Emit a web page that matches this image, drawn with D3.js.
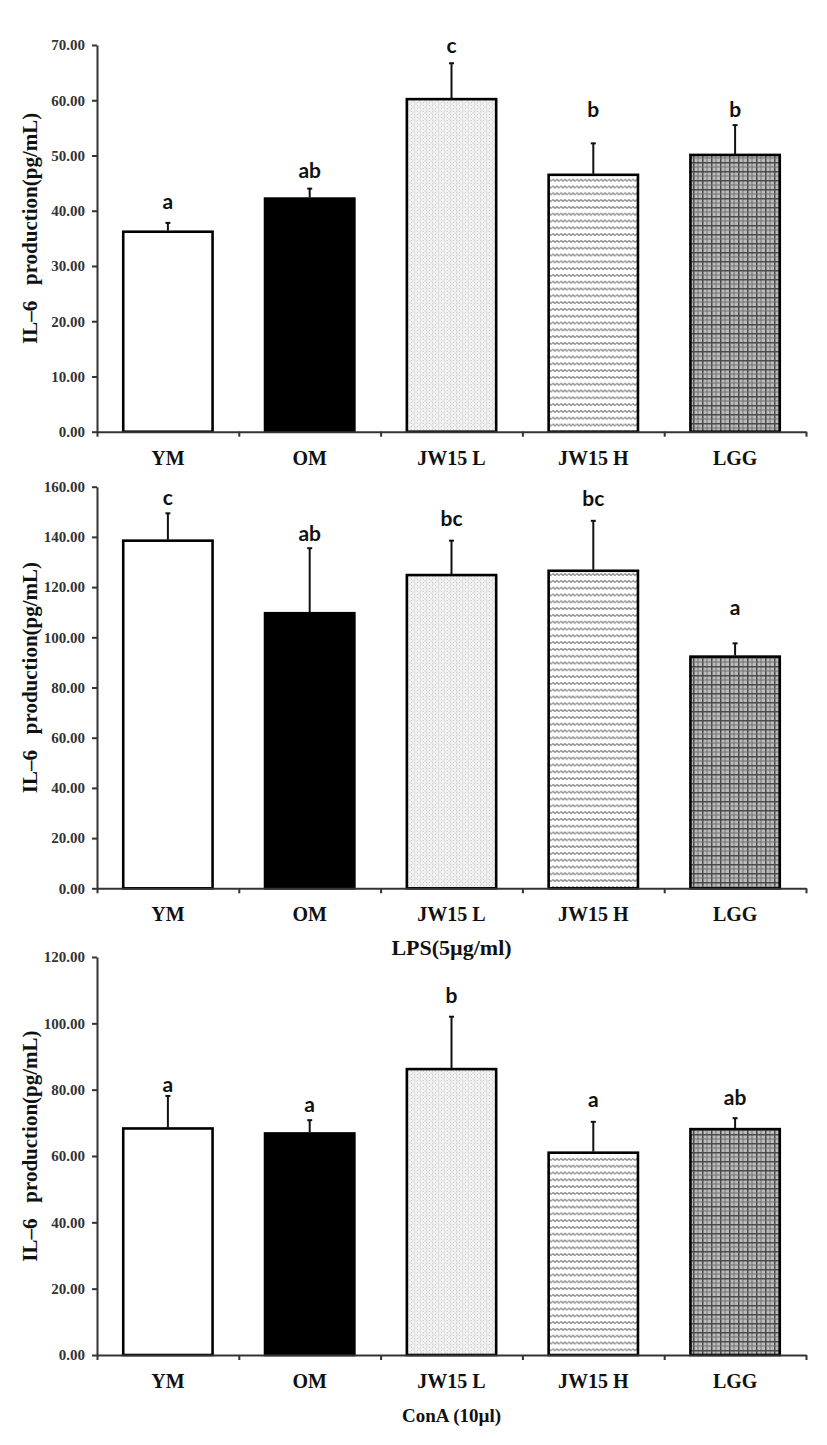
<!DOCTYPE html>
<html>
<head>
<meta charset="utf-8">
<script src="https://cdn.jsdelivr.net/npm/d3@7"></script>
<style>
  html, body { margin: 0; padding: 0; background: #fff; }
  svg { display: block; }
  text { white-space: pre; }
</style>
</head>
<body>
<svg id="chart" width="827" height="1445"></svg>
<script>
// ---------- DATA ----------
const categories = ["YM", "OM", "JW15 L", "JW15 H", "LGG"];

// Panel 1 (no stimulus)
const p1Values = [36.2, 42.2, 60.2, 46.5, 50.1];
const p1ErrTop = [37.8, 44.0, 66.7, 52.2, 55.5];
const p1Letters = ["a", "ab", "c", "b", "b"];
const p1LetterAt = [40.4, 45.9, 68.5, 57.0, 57.0];
const p1Ticks = [0, 10, 20, 30, 40, 50, 60, 70];

// Panel 2 (LPS)
const p2Values = [138.5, 109.6, 124.8, 126.5, 92.3];
const p2ErrTop = [149.4, 135.5, 138.5, 146.4, 97.6];
const p2Letters = ["c", "ab", "bc", "bc", "a"];
const p2LetterAt = [152.7, 138.5, 144.3, 152.3, 108.9];
const p2Ticks = [0, 20, 40, 60, 80, 100, 120, 140, 160];

// Panel 3 (ConA)
const p3Values = [68.3, 66.8, 86.2, 61.0, 68.1];
const p3ErrTop = [78.1, 70.8, 102.0, 70.3, 71.4];
const p3Letters = ["a", "a", "b", "a", "ab"];
const p3LetterAt = [79.2, 73.4, 106.0, 74.9, 75.4];
const p3Ticks = [0, 20, 40, 60, 80, 100, 120];

const yTitle = "IL\u20136   production(pg/mL)";
const subtitles = ["", "LPS(5\u00b5g/ml)", "ConA (10\u00b5l)"];

// ---------- LAYOUT ----------
const panels = [
  { values: p1Values, err: p1ErrTop, letters: p1Letters, letterAt: p1LetterAt, ticks: p1Ticks, top: 45, bottom: 431.7, sub: subtitles[0], subSize: 22 },
  { values: p2Values, err: p2ErrTop, letters: p2Letters, letterAt: p2LetterAt, ticks: p2Ticks, top: 486.7, bottom: 888.3, sub: subtitles[1], subSize: 22 },
  { values: p3Values, err: p3ErrTop, letters: p3Letters, letterAt: p3LetterAt, ticks: p3Ticks, top: 957, bottom: 1355, sub: subtitles[2], subSize: 19 }
];
const xLeft = 97, xRight = 806;
const serif = "'Liberation Serif', 'Times New Roman', serif";
const sans = "Lato, 'Open Sans', sans-serif";
const axisColor = "#333";

const svg = d3.select("#chart");

// ---------- PATTERNS ----------
const defs = svg.append("defs");
// JW15 L : light dotted
const pL = defs.append("pattern").attr("id", "patL").attr("patternUnits", "userSpaceOnUse")
  .attr("width", 6).attr("height", 6);
pL.append("rect").attr("width", 6).attr("height", 6).attr("fill", "#f3f3f3");
[[0,0],[3,0],[0,3],[3,3],[1.5,1.5],[4.5,4.5]].forEach(([x,y]) =>
  pL.append("rect").attr("x", x).attr("y", y).attr("width", 1).attr("height", 1).attr("fill", "#c4c4c4"));
pL.append("rect").attr("x", 0).attr("y", 0).attr("width", 0.6).attr("height", 6).attr("fill", "#dcdcdc");

// JW15 H : horizontal wavy lines
const pH = defs.append("pattern").attr("id", "patH").attr("patternUnits", "userSpaceOnUse")
  .attr("width", 8).attr("height", 6.8);
pH.append("rect").attr("width", 8).attr("height", 6.8).attr("fill", "#fff");
pH.append("path").attr("d", "M0,3.4 Q1,2.2 2,3.4 T4,3.4 T6,3.4 T8,3.4")
  .attr("fill", "none").attr("stroke", "#8f8f8f").attr("stroke-width", 1.5);

// LGG : plaid grid
const pG = defs.append("pattern").attr("id", "patG").attr("patternUnits", "userSpaceOnUse")
  .attr("width", 9).attr("height", 9);
pG.append("rect").attr("width", 9).attr("height", 9).attr("fill", "#bcbcbc");
pG.append("rect").attr("x", 0).attr("y", 0).attr("width", 1.5).attr("height", 9).attr("fill", "#4a4a4a");
pG.append("rect").attr("x", 4.5).attr("y", 0).attr("width", 1).attr("height", 9).attr("fill", "#707070");
pG.append("rect").attr("x", 0).attr("y", 0).attr("width", 9).attr("height", 1.5).attr("fill", "#4a4a4a");
pG.append("rect").attr("x", 0).attr("y", 4.5).attr("width", 9).attr("height", 1).attr("fill", "#707070");

const fills = ["#fff", "#000", "url(#patL)", "url(#patH)", "url(#patG)"];

// ---------- DRAW ----------
panels.forEach(p => {
  const g = svg.append("g");
  const yMax = p.ticks[p.ticks.length - 1];
  const y = d3.scaleLinear().domain([0, yMax]).range([p.bottom, p.top]);
  const x = d3.scaleBand().domain(categories).range([xLeft, xRight])
    .paddingInner(0.37).paddingOuter(0.185);
  const xSep = d3.scaleLinear().domain([0, categories.length]).range([xLeft, xRight]);

  // bars
  g.selectAll("rect.bar").data(p.values).enter().append("rect")
    .attr("class", "bar")
    .attr("x", (d, i) => x(categories[i]))
    .attr("y", d => y(d))
    .attr("width", x.bandwidth())
    .attr("height", d => y(0) - y(d))
    .attr("fill", (d, i) => fills[i])
    .attr("stroke", "#000")
    .attr("stroke-width", 2.6);

  // error bars (upper only)
  g.selectAll("line.err").data(p.err).enter().append("line")
    .attr("x1", (d, i) => x(categories[i]) + x.bandwidth() / 2)
    .attr("x2", (d, i) => x(categories[i]) + x.bandwidth() / 2)
    .attr("y1", (d, i) => y(p.values[i]) - 1)
    .attr("y2", d => y(d))
    .attr("stroke", "#111").attr("stroke-width", 2);
  g.selectAll("line.cap").data(p.err).enter().append("line")
    .attr("x1", (d, i) => x(categories[i]) + x.bandwidth() / 2 - 2.5)
    .attr("x2", (d, i) => x(categories[i]) + x.bandwidth() / 2 + 2.5)
    .attr("y1", d => y(d))
    .attr("y2", d => y(d))
    .attr("stroke", "#111").attr("stroke-width", 2);

  // significance letters
  g.selectAll("text.sig").data(p.letters).enter().append("text")
    .attr("x", (d, i) => x(categories[i]) + x.bandwidth() / 2)
    .attr("y", (d, i) => y(p.letterAt[i]))
    .attr("text-anchor", "middle")
    .style("font-family", sans).style("font-weight", "bold").style("font-size", "21px")
    .attr("fill", "#111")
    .text(d => d);

  // y axis
  const ya = g.append("g").attr("transform", `translate(${xLeft},0)`)
    .call(d3.axisLeft(y).tickValues(p.ticks).tickFormat(d3.format(".2f")).tickSize(5).tickPadding(7).tickSizeOuter(0));
  ya.select(".domain").attr("stroke", axisColor).attr("stroke-width", 2);
  ya.selectAll(".tick line").attr("stroke", axisColor).attr("stroke-width", 2);
  ya.selectAll(".tick text").style("font-family", serif).style("font-weight", "bold")
    .style("font-size", "15px").attr("fill", "#333");

  // x axis: separators ticks
  const xa = g.append("g").attr("transform", `translate(0,${p.bottom})`)
    .call(d3.axisBottom(xSep).tickValues(d3.range(categories.length + 1)).tickFormat("").tickSize(5).tickSizeOuter(0));
  xa.select(".domain").attr("stroke", axisColor).attr("stroke-width", 2);
  xa.selectAll(".tick line").attr("stroke", axisColor).attr("stroke-width", 2);

  // x category labels
  const xl = g.append("g").attr("transform", `translate(0,${p.bottom})`)
    .call(d3.axisBottom(x).tickSize(0).tickPadding(19));
  xl.select(".domain").remove();
  xl.selectAll(".tick text").style("font-family", serif).style("font-weight", "bold")
    .style("font-size", "20px").attr("fill", "#111");

  // subtitle
  if (p.sub) {
    g.append("text")
      .attr("x", (xLeft + xRight) / 2)
      .attr("y", p.bottom + 67)
      .attr("text-anchor", "middle")
      .style("font-family", serif).style("font-weight", "bold").style("font-size", p.subSize + "px")
      .attr("fill", "#111")
      .text(p.sub);
  }

  // y title
  const cy = (p.top + p.bottom) / 2 - 10;
  g.append("text")
    .attr("transform", `translate(37,${cy}) rotate(-90)`)
    .attr("text-anchor", "middle")
    .style("font-family", serif).style("font-weight", "bold").style("font-size", "21px")
    .attr("fill", "#111")
    .text(yTitle);
});
</script>
</body>
</html>
